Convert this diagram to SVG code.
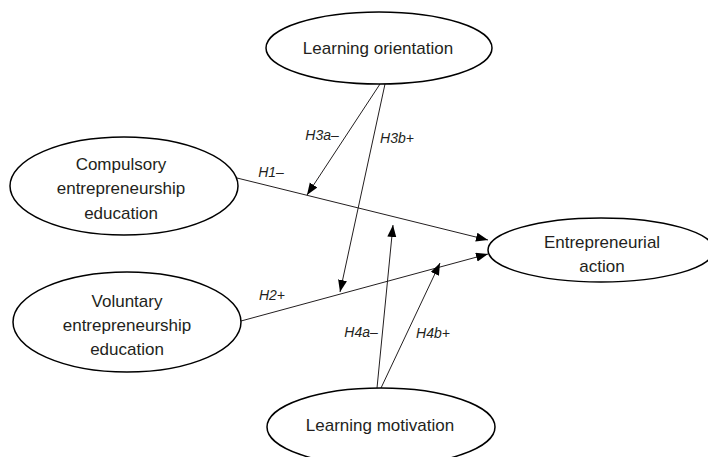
<svg xmlns="http://www.w3.org/2000/svg" width="708" height="457" viewBox="0 0 708 457">
<style>
.node ellipse{fill:#fff;stroke:#000;stroke-width:1.5}
.node text{font-family:"Liberation Sans",Arial,sans-serif;font-size:17px;fill:#231f20;text-anchor:middle}
.edges line{stroke:#231f20;stroke-width:1;marker-end:url(#arr)}
.lbl{font-family:"Liberation Sans",Arial,sans-serif;font-size:14px;font-style:italic;fill:#231f20;text-anchor:middle}
</style>
<defs>
<marker id="arr" markerUnits="userSpaceOnUse" markerWidth="13" markerHeight="10" refX="12" refY="4.5" orient="auto">
<path d="M0,0 L12,4.5 L0,9 z" fill="#000"/>
</marker>
</defs>
<rect width="708" height="457" fill="#fff"/>
<g id="edges" class="edges">
<line x1="237" y1="178" x2="488" y2="240"/>
<line x1="241" y1="321" x2="488" y2="254"/>
<line x1="380" y1="84" x2="307" y2="195"/>
<line x1="385" y1="84" x2="340" y2="292"/>
<line x1="377" y1="388" x2="393" y2="225"/>
<line x1="381" y1="388" x2="440" y2="263"/>
</g>
<g id="labels">
<text class="lbl" x="271" y="177">H1–</text>
<text class="lbl" x="272" y="300">H2+</text>
<text class="lbl" x="322" y="140">H3a–</text>
<text class="lbl" x="397" y="143">H3b+</text>
<text class="lbl" x="361" y="337">H4a–</text>
<text class="lbl" x="433" y="338">H4b+</text>
</g>
<g id="learning-orientation" class="node">
<ellipse cx="379" cy="48" rx="113" ry="36"/>
<text x="378" y="54">Learning orientation</text>
</g>
<g id="compulsory" class="node">
<ellipse cx="124" cy="186" rx="114" ry="49"/>
<text x="121" y="170">Compulsory</text>
<text x="121" y="194">entrepreneurship</text>
<text x="121" y="219">education</text>
</g>
<g id="voluntary" class="node">
<ellipse cx="127" cy="322" rx="114" ry="50"/>
<text x="127" y="307">Voluntary</text>
<text x="127" y="331">entrepreneurship</text>
<text x="127" y="355">education</text>
</g>
<g id="entrepreneurial-action" class="node">
<ellipse cx="601" cy="250" rx="113" ry="32"/>
<text x="602" y="248">Entrepreneurial</text>
<text x="602" y="272">action</text>
</g>
<g id="learning-motivation" class="node">
<ellipse cx="381" cy="427" rx="114" ry="39"/>
<text x="380" y="431">Learning motivation</text>
</g>
</svg>
